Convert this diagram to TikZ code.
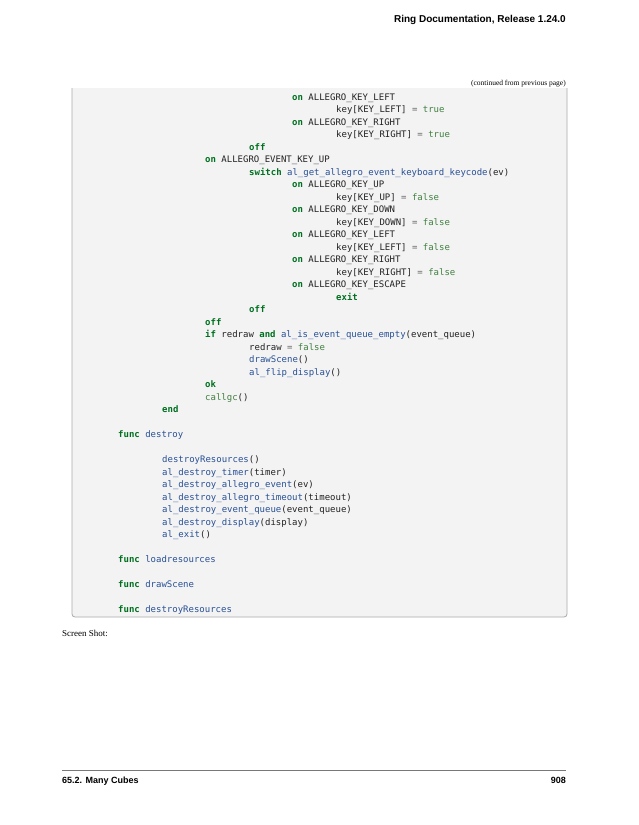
\documentclass[tikz,border=0pt]{standalone}
\usepackage{fontspec}
\setmainfont{Liberation Serif}
\newfontfamily\hdr{Liberation Sans}
\newfontfamily\cmono{DejaVu Sans Mono}
\definecolor{kwc}{RGB}{0,112,32}
\definecolor{fnc}{RGB}{40,80,150}
\definecolor{ltc}{RGB}{64,128,64}
\definecolor{opc}{RGB}{102,102,102}
\definecolor{txc}{RGB}{34,34,34}
\definecolor{boxbg}{RGB}{243,243,243}
\definecolor{boxln}{RGB}{170,170,170}
\definecolor{rulec}{RGB}{120,120,120}
\begin{document}
\begin{tikzpicture}[x=1pt,y=-1pt,
  code/.style={anchor=base west,inner sep=0pt,font=\cmono\fontsize{9}{10}\selectfont,text=txc}]
\newcommand\K[1]{\textcolor{kwc}{\bfseries #1}}
\newcommand\F[1]{\textcolor{fnc}{#1}}
\newcommand\Lt[1]{\textcolor{ltc}{#1}}
\newcommand\Op{\textcolor{opc}{=}}
\useasboundingbox (0,0) rectangle (638,825);
\fill[white] (0,0) rectangle (638,825);
\node[anchor=base east,inner sep=0pt,font=\hdr\bfseries\fontsize{10}{12}\selectfont] (hd) at (566,22) {Ring Documentation, Release 1.24.0};
\node[anchor=base east,inner sep=0pt,font=\fontsize{7.5}{9}\selectfont] (cont) at (566,85) {(continued from previous page)};
\draw[fill=boxbg,draw=boxln,line width=0.8pt,rounded corners=3pt] (72,88) -- (72,617) -- (567,617) -- (567,88);
\def\a{118}\def\b{162}\def\c{205}\def\d{249}\def\e{292}\def\f{336}
\node[code] (l1) at (\e,100) {\K{on} ALLEGRO\_KEY\_LEFT};
\node[code] (l2) at (\f,112.5) {key[KEY\_LEFT] \Op{} \Lt{true}};
\node[code] (l3) at (\e,125) {\K{on} ALLEGRO\_KEY\_RIGHT};
\node[code] (l4) at (\f,137.5) {key[KEY\_RIGHT] \Op{} \Lt{true}};
\node[code] (l5) at (\d,150) {\K{off}};
\node[code] (l6) at (\c,162.5) {\K{on} ALLEGRO\_EVENT\_KEY\_UP};
\node[code] (l7) at (\d,175) {\K{switch} \F{al\_get\_allegro\_event\_keyboard\_keycode}(ev)};
\node[code] (l8) at (\e,187.5) {\K{on} ALLEGRO\_KEY\_UP};
\node[code] (l9) at (\f,200) {key[KEY\_UP] \Op{} \Lt{false}};
\node[code] (l10) at (\e,212.5) {\K{on} ALLEGRO\_KEY\_DOWN};
\node[code] (l11) at (\f,225) {key[KEY\_DOWN] \Op{} \Lt{false}};
\node[code] (l12) at (\e,237.5) {\K{on} ALLEGRO\_KEY\_LEFT};
\node[code] (l13) at (\f,250) {key[KEY\_LEFT] \Op{} \Lt{false}};
\node[code] (l14) at (\e,262.5) {\K{on} ALLEGRO\_KEY\_RIGHT};
\node[code] (l15) at (\f,275) {key[KEY\_RIGHT] \Op{} \Lt{false}};
\node[code] (l16) at (\e,287.5) {\K{on} ALLEGRO\_KEY\_ESCAPE};
\node[code] (l17) at (\f,300) {\K{exit}};
\node[code] (l18) at (\d,312.5) {\K{off}};
\node[code] (l19) at (\c,325) {\K{off}};
\node[code] (l20) at (\c,337.5) {\K{if} redraw \K{and} \F{al\_is\_event\_queue\_empty}(event\_queue)};
\node[code] (l21) at (\d,350) {redraw \Op{} \Lt{false}};
\node[code] (l22) at (\d,362.5) {\F{drawScene}()};
\node[code] (l23) at (\d,375) {\F{al\_flip\_display}()};
\node[code] (l24) at (\c,387.5) {\K{ok}};
\node[code] (l25) at (\c,400) {\Lt{callgc}()};
\node[code] (l26) at (\b,412.5) {\K{end}};
\node[code] (l27) at (\a,437.5) {\K{func} \F{destroy}};
\node[code] (l28) at (\b,462.5) {\F{destroyResources}()};
\node[code] (l29) at (\b,475) {\F{al\_destroy\_timer}(timer)};
\node[code] (l30) at (\b,487.5) {\F{al\_destroy\_allegro\_event}(ev)};
\node[code] (l31) at (\b,500) {\F{al\_destroy\_allegro\_timeout}(timeout)};
\node[code] (l32) at (\b,512.5) {\F{al\_destroy\_event\_queue}(event\_queue)};
\node[code] (l33) at (\b,525) {\F{al\_destroy\_display}(display)};
\node[code] (l34) at (\b,537.5) {\F{al\_exit}()};
\node[code] (l35) at (\a,562.5) {\K{func} \F{loadresources}};
\node[code] (l36) at (\a,587.5) {\K{func} \F{drawScene}};
\node[code] (l37) at (\a,612.5) {\K{func} \F{destroyResources}};
\node[anchor=base west,inner sep=0pt,font=\fontsize{9}{11}\selectfont] (ss) at (62,636) {Screen Shot:};
\draw[draw=rulec,line width=0.5pt] (62,770) -- (566,770);
\node[anchor=base west,inner sep=0pt,font=\hdr\bfseries\fontsize{9}{11}\selectfont] (ft) at (62,783) {65.2. Many Cubes};
\node[anchor=base east,inner sep=0pt,font=\hdr\bfseries\fontsize{9}{11}\selectfont] (pg) at (566,783) {908};
\end{tikzpicture}
\end{document}
